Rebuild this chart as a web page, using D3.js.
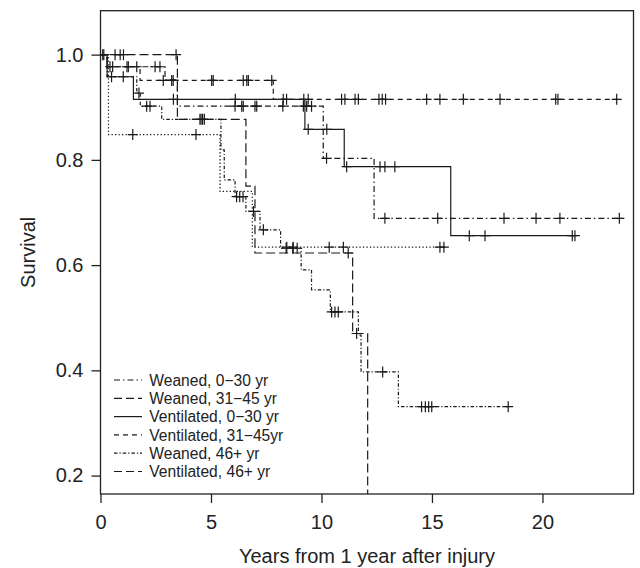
<!DOCTYPE html>
<html>
<head>
<meta charset="utf-8">
<script src="https://cdn.jsdelivr.net/npm/d3@7"></script>
<style>
    body { margin: 0; background: #fff; }
    #chart-area { width: 640px; height: 568px; }
    text { font-family: "Liberation Sans", Arial, Helvetica, sans-serif; fill: #222; }
</style>
</head>
<body>
<div id="chart-area"></div>
<script>
// legend order
const groups = ["Weaned, 0\u221230 yr", "Weaned, 31\u221245 yr", "Ventilated, 0\u221230 yr",
    "Ventilated, 31\u221245yr", "Weaned, 46+ yr", "Ventilated, 46+ yr"];

// Weaned, 0-30 yr
const w030Time = [0, 0.3, 2.92, 3.48, 10.08, 12.38, 23.66];
const w030Surv = [1, 0.977, 0.952, 0.902, 0.803, 0.689, 0.689];
const w030Cens = [0.55, 1.2, 2.47, 2.69, 6.09, 6.39, 6.46, 6.99, 7.07, 8.25, 9.18, 9.33, 9.55,
    10.23, 12.87, 15.26, 18.26, 19.71, 20.79, 23.48];

// Weaned, 31-45 yr
const w3145Time = [0, 0.36, 5.41, 6.87, 15.6];
const w3145Surv = [1, 0.848, 0.74, 0.634, 0.634];
const w3145Cens = [0.15, 1.46, 4.32, 8.43, 8.72, 10.35, 10.99, 15.36, 15.54];

// Ventilated, 0-30 yr
const v030Time = [0, 0.3, 1.49, 9.25, 11.03, 15.85, 21.47];
const v030Surv = [1, 0.958, 0.915, 0.858, 0.787, 0.656, 0.656];
const v030Cens = [0.5, 1.03, 3.3, 6.1, 9.4, 10.24, 11.14, 12.65, 12.87, 13.32, 16.69, 17.4, 21.35, 21.47];

// Ventilated, 31-45yr
const v3145Time = [0, 0.3, 1.79, 7.82, 23.4];
const v3145Surv = [1, 0.977, 0.951, 0.915, 0.915];
const v3145Cens = [0.43, 1.26, 1.64, 2.84, 3.22, 3.29, 5.03, 5.1, 6.46, 6.62, 6.69, 7.75, 8.27, 8.42,
    9.2, 9.4, 10.91, 11.06, 11.52, 11.67, 12.6, 12.75, 12.9, 14.76, 15.36, 16.42, 18.08, 20.6, 20.7, 23.36];

// Weaned, 46+ yr
const w46Time = [0, 0.3, 1.64, 1.8, 2.77, 5.45, 5.6, 6.09, 6.58, 7.22, 8.15, 9.08, 9.55, 10.4,
    11.67, 11.79, 13.48, 18.5];
const w46Surv = [1, 0.958, 0.927, 0.902, 0.877, 0.819, 0.762, 0.73, 0.702, 0.667, 0.632, 0.591,
    0.553, 0.511, 0.467, 0.397, 0.331, 0.331];
const w46Cens = [1.74, 2.09, 2.24, 4.55, 4.7, 6.16, 6.3, 6.45, 6.92, 7.37, 8.4, 8.7, 8.9, 10.46,
    10.61, 10.76, 12.77, 14.53, 14.7, 14.85, 14.99, 18.45];

// Ventilated, 46+ yr
const v46Time = [0, 3.48, 6.58, 6.99, 11.41, 12.09];
const v46Surv = [1, 0.877, 0.75, 0.623, 0.47, 0];
const v46Cens = [0.1, 0.66, 0.89, 1.04, 3.42, 4.5, 4.62, 11.21, 11.59];

const xTicks = [0, 5, 10, 15, 20];
const yTicks = [0.2, 0.4, 0.6, 0.8, 1.0];

const dashes = ["6,3,1.5,3", "1.3,2.2", null, "5,4", "3.5,2,1.2,2", "9,4"];
// the legend key for the 31-45 weaned group is drawn dashed in the original
const legendDashes = ["6,3,1.5,3", "8,4", null, "5,4", "3.5,2,1.2,2", "8,4"];


class SurvivalChart {

    constructor(_parentElement, _series) {
        this.parentElement = _parentElement;
        this.series = _series;

        this.initVis();
    }

    initVis() {
        let vis = this;

        vis.margin = { top: 10.7, right: 6.5, bottom: 74, left: 100.5 };
        vis.width = 640 - vis.margin.left - vis.margin.right;
        vis.height = 568 - vis.margin.top - vis.margin.bottom;

        vis.svg = d3.select("#" + vis.parentElement).append("svg")
            .attr("width", 640)
            .attr("height", 568)
            .append("g")
            .attr("transform", "translate(" + vis.margin.left + "," + vis.margin.top + ")");

        vis.x = d3.scaleLinear()
            .domain([0, 24.12])
            .range([0, vis.width]);

        vis.y = d3.scaleLinear()
            .domain([0.165, 1.0835])
            .range([vis.height, 0]);

        vis.svg.append("clipPath")
            .attr("id", "plot-clip")
            .append("rect")
            .attr("width", vis.width)
            .attr("height", vis.height);

        // axes
        vis.xAxis = d3.axisBottom(vis.x)
            .tickValues(xTicks)
            .tickSize(9)
            .tickPadding(12);

        vis.yAxis = d3.axisLeft(vis.y)
            .tickValues(yTicks)
            .tickFormat(d3.format(".1f"))
            .tickSize(9)
            .tickPadding(8);

        vis.svg.append("g")
            .attr("class", "x-axis")
            .attr("transform", "translate(0," + vis.height + ")")
            .call(vis.xAxis);

        vis.svg.append("g")
            .attr("class", "y-axis")
            .call(vis.yAxis);

        vis.svg.selectAll(".domain").remove();
        vis.svg.selectAll(".tick line").attr("stroke", "#222").attr("stroke-width", 1.3);
        vis.svg.selectAll(".tick text")
            .style("font-size", "20px")
            .style("font-family", "'Liberation Sans', Arial, sans-serif")
            .attr("fill", "#222");

        vis.svg.append("rect")
            .attr("width", vis.width)
            .attr("height", vis.height)
            .attr("fill", "none")
            .attr("stroke", "#222")
            .attr("stroke-width", 1.3);

        vis.svg.append("text")
            .attr("x", vis.width / 2)
            .attr("y", vis.height + 69)
            .attr("text-anchor", "middle")
            .style("font-size", "20px")
            .text("Years from 1 year after injury");

        vis.svg.append("text")
            .attr("transform", "translate(" + (35 - vis.margin.left) + "," + (vis.height / 2) + ") rotate(-90)")
            .attr("text-anchor", "middle")
            .style("font-size", "20px")
            .text("Survival");

        vis.line = d3.line()
            .x(d => vis.x(d[0]))
            .y(d => vis.y(d[1]))
            .curve(d3.curveStepAfter);

        vis.wrangleData();
    }

    wrangleData() {
        let vis = this;

        vis.displayData = vis.series.map((s, i) => {
            let points = s.time.map((t, j) => [t, s.surv[j]]);
            let marks = s.cens.map(t => [t, s.surv[d3.bisectRight(s.time, t) - 1]]);
            return { name: groups[i], dash: dashes[i], keyDash: legendDashes[i], points: points, marks: marks };
        });

        vis.updateVis();
    }

    updateVis() {
        let vis = this;

        let plot = vis.svg.append("g")
            .attr("clip-path", "url(#plot-clip)");

        plot.selectAll(".km-line")
            .data(vis.displayData)
            .enter()
            .append("path")
            .attr("class", "km-line")
            .attr("d", d => vis.line(d.points))
            .attr("fill", "none")
            .attr("stroke", "#1a1a1a")
            .attr("stroke-width", 1.2)
            .attr("stroke-dasharray", d => d.dash);

        vis.displayData.forEach(d => {
            plot.selectAll(null)
                .data(d.marks)
                .enter()
                .append("path")
                .attr("d", m => {
                    let cx = vis.x(m[0]), cy = vis.y(m[1]);
                    return "M" + (cx - 5) + "," + cy + "H" + (cx + 5) + "M" + cx + "," + (cy - 5.5) + "V" + (cy + 5.5);
                })
                .attr("stroke", "#1a1a1a")
                .attr("stroke-width", 1.2);
        });

        // legend
        let legend = vis.svg.append("g")
            .attr("class", "legend")
            .attr("transform", "translate(" + (114 - vis.margin.left) + "," + (380 - vis.margin.top) + ")");

        let rows = legend.selectAll(".legend-row")
            .data(vis.displayData)
            .enter()
            .append("g")
            .attr("class", "legend-row")
            .attr("transform", (d, i) => "translate(0," + (i * 18.3) + ")");

        rows.append("line")
            .attr("x1", 0)
            .attr("x2", 28)
            .attr("stroke", "#1a1a1a")
            .attr("stroke-width", 1.2)
            .attr("stroke-dasharray", d => d.keyDash);

        rows.append("text")
            .attr("x", 35.3)
            .attr("dy", "0.36em")
            .style("font-size", "15.6px")
            .text(d => d.name);
    }
}

let chart = new SurvivalChart("chart-area", [
    { time: w030Time, surv: w030Surv, cens: w030Cens },
    { time: w3145Time, surv: w3145Surv, cens: w3145Cens },
    { time: v030Time, surv: v030Surv, cens: v030Cens },
    { time: v3145Time, surv: v3145Surv, cens: v3145Cens },
    { time: w46Time, surv: w46Surv, cens: w46Cens },
    { time: v46Time, surv: v46Surv, cens: v46Cens }
]);
</script>
</body>
</html>
